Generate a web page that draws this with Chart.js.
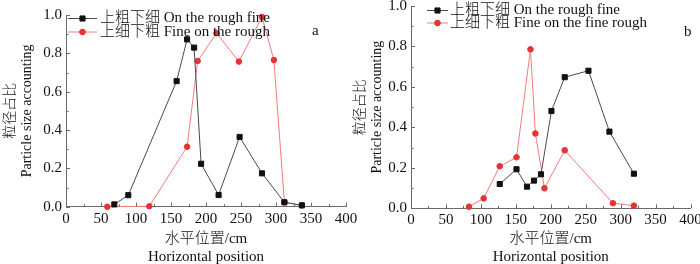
<!DOCTYPE html>
<html>
<head>
<meta charset="utf-8">
<script src="https://cdn.jsdelivr.net/npm/chart.js@4"></script>
<style>
  html, body { margin: 0; padding: 0; background: #fff; width: 700px; height: 264px; overflow: hidden; }
  .wrap { position: absolute; top: 0; width: 360px; height: 264px; }
</style>
</head>
<body>
<div class="wrap" style="left:0"><canvas id="chartA" width="360" height="264"></canvas></div>
<div class="wrap" style="left:350px"><canvas id="chartB" width="360" height="264"></canvas></div>
<script>
// panel a
const xBlackA = [69, 89, 158, 173, 183, 193, 218, 248, 280, 312, 337];
const yBlackA = [0.012, 0.06, 0.655, 0.873, 0.83, 0.224, 0.061, 0.364, 0.174, 0.023, 0.007];
const xRedA = [59, 119, 173, 188, 215, 247, 280, 297, 312, 337];
const yRedA = [0, 0.002, 0.313, 0.76, 0.905, 0.757, 0.99, 0.765, 0.023, 0.007];
// panel b
const xBlackB = [127, 151, 166, 176, 186, 201, 220, 254, 284, 319];
const yBlackB = [0.12, 0.193, 0.107, 0.137, 0.168, 0.481, 0.648, 0.68, 0.379, 0.171];
const xRedB = [83, 104, 127, 151, 171, 178, 191, 220, 289, 319];
const yRedB = [0.008, 0.049, 0.208, 0.252, 0.786, 0.37, 0.099, 0.287, 0.025, 0.013];

const namesA = ['上粗下细 On the rough fine', '上细下粗 Fine on the rough'];
const namesB = ['上粗下细 On the rough fine', '上细下粗 Fine on the fine rough'];
const yTitle = ['粒径占比', 'Particle size accounting'];
const xTitle = ['水平位置/cm', 'Horizontal position'];

const FONT = "'Liberation Serif', 'Noto Sans CJK SC', serif";
const axisColor = '#6a6a6a';
const lineColors = ['#4a4a4a', '#f27c7c'];
const markColors = ['#111111', '#e53333'];

function toPoints(xs, ys) {
    const pts = [];
    for (let i = 0; i < xs.length; i++) pts.push({x: xs[i], y: ys[i]});
    return pts;
}

function panelPlugin(names, lg, tag) {
    return {
        id: 'panel',
        afterDraw(chart) {
            const ctx = chart.ctx;
            const xs = chart.scales.x, ys = chart.scales.y;
            ctx.save();
            ctx.strokeStyle = axisColor;
            ctx.lineWidth = 1;
            // inward tick marks
            for (let v = 0; v <= 400; v += 25) {
                const px = Math.round(xs.getPixelForValue(v)) + 0.5;
                const len = v % 50 === 0 ? 4 : 2.5;
                ctx.beginPath(); ctx.moveTo(px, ys.bottom); ctx.lineTo(px, ys.bottom - len); ctx.stroke();
            }
            for (let i = 0; i <= 10; i++) {
                const py = Math.round(ys.getPixelForValue(i / 10)) + 0.5;
                const len = i % 2 === 0 ? 4 : 2.5;
                ctx.beginPath(); ctx.moveTo(xs.left, py); ctx.lineTo(xs.left + len, py); ctx.stroke();
            }
            // legend
            ctx.font = '300 15px ' + FONT;
            ctx.textBaseline = 'middle';
            ctx.textAlign = 'left';
            names.forEach((name, i) => {
                const y = lg.y + i * lg.gap;
                ctx.strokeStyle = lineColors[i];
                ctx.beginPath(); ctx.moveTo(lg.x0, y); ctx.lineTo(lg.x1, y); ctx.stroke();
                ctx.fillStyle = markColors[i];
                ctx.strokeStyle = markColors[i];
                Chart.helpers.drawPoint(ctx, {pointStyle: i === 0 ? 'rect' : 'circle', radius: i === 0 ? 3.6 : 2.8, borderWidth: 1}, (lg.x0 + lg.x1) / 2, y);
                ctx.fill();
                ctx.fillStyle = '#111';
                ctx.fillText(name, lg.tx, y);
            });
            ctx.fillText(tag.text, tag.x, tag.y);
            ctx.restore();
        }
    };
}

function makeConfig(blackPts, redPts, box, names, lg, tag) {
    return {
        type: 'scatter',
        data: {
            datasets: [
                {data: blackPts, showLine: true, borderColor: lineColors[0], borderWidth: 1,
                 pointStyle: 'rect', pointRadius: 3.6, pointBackgroundColor: markColors[0], pointBorderColor: markColors[0], clip: false},
                {data: redPts, showLine: true, borderColor: lineColors[1], borderWidth: 1,
                 pointStyle: 'circle', pointRadius: 2.8, pointBackgroundColor: markColors[1], pointBorderColor: markColors[1], clip: false}
            ]
        },
        options: {
            responsive: false,
            animation: false,
            devicePixelRatio: 1,
            layout: {padding: {left: 0, top: box.top, right: box.right, bottom: 0}},
            plugins: {legend: {display: false}, tooltip: {enabled: false}},
            scales: {
                x: {
                    type: 'linear', min: 0, max: 400,
                    grid: {display: false, drawTicks: false},
                    border: {display: true, color: axisColor, width: 1},
                    ticks: {stepSize: 50, padding: 3, color: '#111', font: {family: FONT, size: 15}, maxRotation: 0},
                    title: {display: true, text: xTitle, color: '#111', font: {family: FONT, size: 15, weight: '300', lineHeight: 1.2}, padding: {top: 0, bottom: -2}},
                    afterFit(scale) { scale.height = box.xh; scale.paddingLeft = 0; scale.paddingRight = 0; }
                },
                y: {
                    min: 0, max: 1,
                    grid: {display: false, drawTicks: false},
                    border: {display: true, color: axisColor, width: 1},
                    ticks: {stepSize: 0.2, padding: 4, color: '#111', font: {family: FONT, size: 15},
                            callback: v => v.toFixed(1)},
                    title: {display: true, text: yTitle, color: '#111', font: {family: FONT, size: 14, weight: '300', lineHeight: 1.2}, padding: {top: 2, bottom: 0}},
                    afterFit(scale) { scale.width = box.yw; scale.paddingTop = 0; scale.paddingBottom = 0; }
                }
            }
        },
        plugins: [panelPlugin(names, lg, tag)]
    };
}

const chartA = new Chart(document.getElementById('chartA'),
    makeConfig(toPoints(xBlackA, yBlackA), toPoints(xRedA, yRedA),
        {top: 15, right: 14, xh: 57.3, yw: 66},
        namesA, {x0: 68, x1: 97, tx: 100, y: 18.5, gap: 13.5}, {text: 'a', x: 312, y: 31}));

const chartB = new Chart(document.getElementById('chartB'),
    makeConfig(toPoints(xBlackB, yBlackB), toPoints(xRedB, yRedB),
        {top: 6, right: 19.5, xh: 55.7, yw: 61},
        namesB, {x0: 77, x1: 98, tx: 100, y: 10.5, gap: 12.5}, {text: 'b', x: 334, y: 32}));
</script>
</body>
</html>
